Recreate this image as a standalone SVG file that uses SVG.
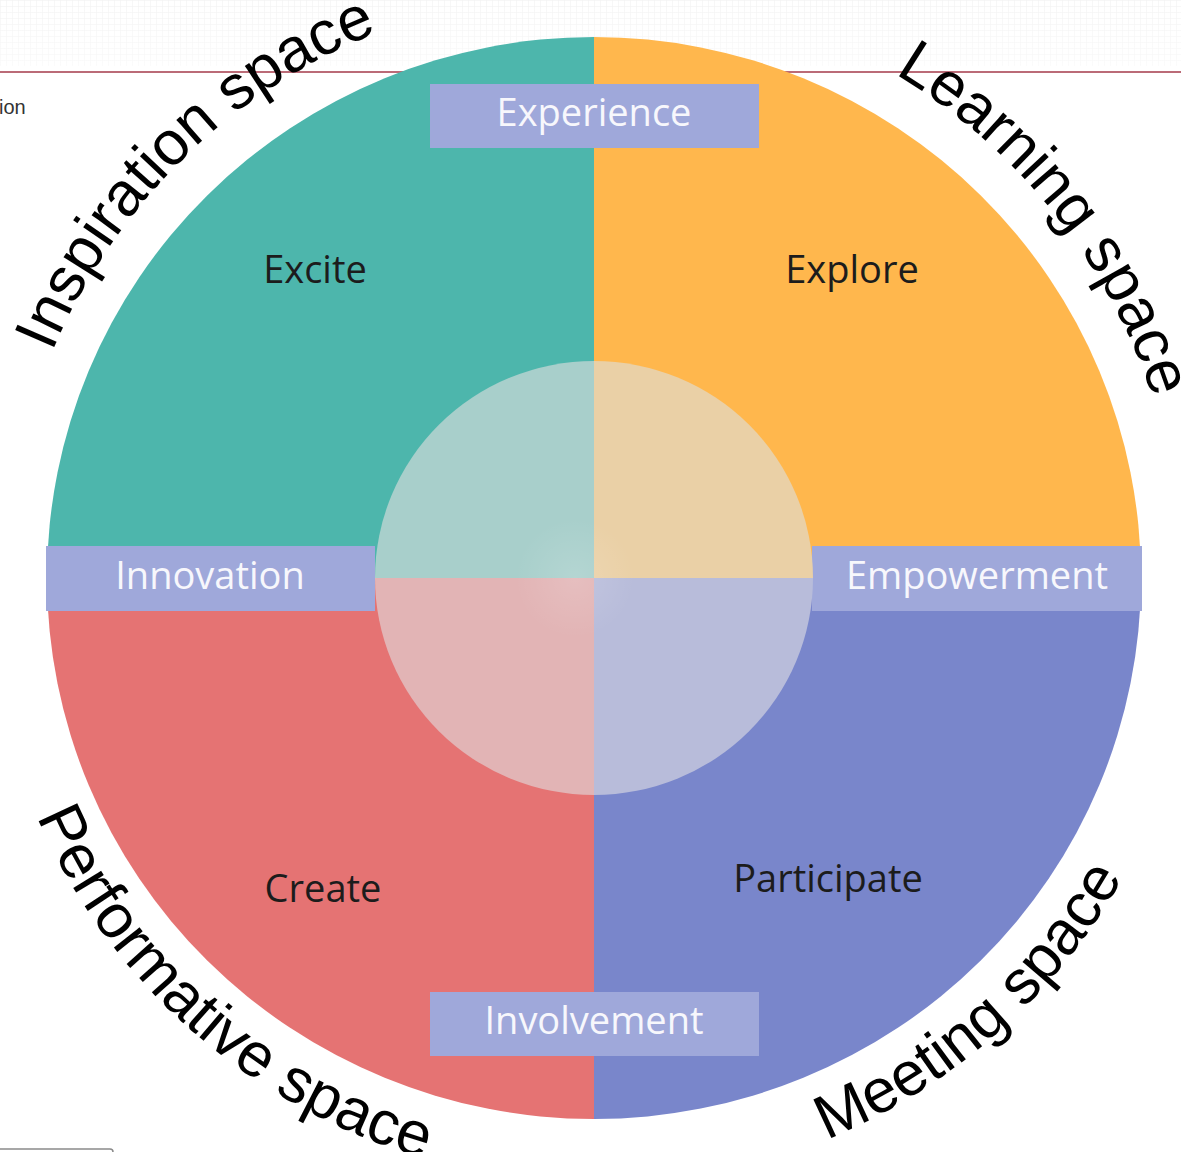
<svg xmlns="http://www.w3.org/2000/svg" xmlns:xlink="http://www.w3.org/1999/xlink" width="1181" height="1152" viewBox="0 0 1181 1152">
  <style>
    .q-label { font-family: "Open Sans", "Noto Sans", sans-serif; font-size: 38px; fill: #1c1c1c; text-anchor: middle; }
    .b-label { font-family: "Open Sans", "Noto Sans", sans-serif; font-size: 38px; fill: #f7f7fc; text-anchor: middle; }
    .box { fill: #9FA8DA; }
    .arc-label { font-family: "Liberation Sans", Arial, sans-serif; font-size: 62px; fill: #000; }
  </style>
  <defs>
    <pattern id="grid" width="6" height="6" patternUnits="userSpaceOnUse">
      <path d="M6 0 L0 0 0 6" fill="none" stroke="#efefef" stroke-width="1"/>
    </pattern>
    <linearGradient id="fadeTop" x1="0" y1="0" x2="0" y2="1">
      <stop offset="0" stop-color="#fff" stop-opacity="0"/>
      <stop offset="1" stop-color="#fff" stop-opacity="1"/>
    </linearGradient>
    <radialGradient id="glow" cx="0.5" cy="0.5" r="0.5">
      <stop offset="0" stop-color="#ffffff" stop-opacity="0.14"/>
      <stop offset="1" stop-color="#ffffff" stop-opacity="0"/>
    </radialGradient>
    <path id="arcInspiration" d="M 9.7 521.7 A 587 587 0 0 1 547.9 -7.2"/>
    <path id="arcLearning" d="M 711 2.8 A 587 587 0 0 1 1180.8 593.4"/>
    <path id="arcPerformative" d="M -4.6 674.6 A 604 604 0 0 0 570.8 1181.6"/>
    <path id="arcMeeting" d="M 609.9 1185.8 A 608 608 0 0 0 1195.3 667.9"/>
  </defs>

  <!-- background -->
  <rect width="1181" height="1152" fill="#ffffff"/>
  <rect x="0" y="0" width="1181" height="66" fill="url(#grid)"/>
  <rect x="0" y="0" width="1181" height="66" fill="url(#fadeTop)" opacity="0.5"/>
  <line x1="0" y1="72" x2="1181" y2="72" stroke="#a43a4a" stroke-width="1.6"/>
  <text x="-1" y="114" font-family="Liberation Sans, Arial, sans-serif" font-size="20" fill="#333">ion</text>
  <rect x="-10" y="1149" width="123" height="20" rx="3" fill="#fff" stroke="#8a8a8a" stroke-width="1.5"/>

  <!-- outer quadrants -->
  <g id="quadrant-excite">
    <path d="M594 578 L47 578 A547 541 0 0 1 594 37 Z" fill="#4DB6AC"/>
  </g>
  <g id="quadrant-explore">
    <path d="M594 578 L594 37 A547 541 0 0 1 1141 578 Z" fill="#FFB74D"/>
  </g>
  <g id="quadrant-participate">
    <path d="M594 578 L1141 578 A547 541 0 0 1 594 1119 Z" fill="#7986CB"/>
  </g>
  <g id="quadrant-create">
    <path d="M594 578 L594 1119 A547 541 0 0 1 47 578 Z" fill="#E57373"/>
  </g>

  <!-- boxes -->
  <g id="box-experience">
    <rect class="box" x="430" y="84" width="329" height="64"/>
    <text class="b-label" x="594" y="126">Experience</text>
  </g>
  <g id="box-innovation">
    <rect class="box" x="46" y="546" width="329" height="65"/>
    <text class="b-label" x="210" y="589">Innovation</text>
  </g>
  <g id="box-empowerment">
    <rect class="box" x="812" y="546" width="330" height="65"/>
    <text class="b-label" x="977" y="589">Empowerment</text>
  </g>
  <g id="box-involvement">
    <rect class="box" x="430" y="992" width="329" height="64"/>
    <text class="b-label" x="594" y="1034">Involvement</text>
  </g>

  <!-- inner circle -->
  <g id="inner-circle">
    <path d="M594 578 L375 578 A219 217 0 0 1 594 361 Z" fill="#A8CFCB"/>
    <path d="M594 578 L594 361 A219 217 0 0 1 813 578 Z" fill="#EAD0A6"/>
    <path d="M594 578 L813 578 A219 217 0 0 1 594 795 Z" fill="#B8BCDA"/>
    <path d="M594 578 L594 795 A219 217 0 0 1 375 578 Z" fill="#E2B4B5"/>
    <circle cx="575" cy="578" r="60" fill="url(#glow)"/>
  </g>

  <!-- quadrant labels -->
  <g id="label-excite"><text class="q-label" x="315" y="283">Excite</text></g>
  <g id="label-explore"><text class="q-label" x="852" y="283">Explore</text></g>
  <g id="label-create"><text class="q-label" x="323" y="902">Create</text></g>
  <g id="label-participate"><text class="q-label" x="828" y="892">Participate</text></g>

  <!-- curved space labels -->
  <g id="space-inspiration">
    <text class="arc-label"><textPath href="#arcInspiration" xlink:href="#arcInspiration" startOffset="50%" text-anchor="middle">Inspiration space</textPath></text>
  </g>
  <g id="space-learning">
    <text class="arc-label"><textPath href="#arcLearning" xlink:href="#arcLearning" startOffset="50%" text-anchor="middle">Learning space</textPath></text>
  </g>
  <g id="space-performative">
    <text class="arc-label"><textPath href="#arcPerformative" xlink:href="#arcPerformative" startOffset="50%" text-anchor="middle">Performative space</textPath></text>
  </g>
  <g id="space-meeting">
    <text class="arc-label"><textPath href="#arcMeeting" xlink:href="#arcMeeting" startOffset="50%" text-anchor="middle">Meeting space</textPath></text>
  </g>
</svg>
